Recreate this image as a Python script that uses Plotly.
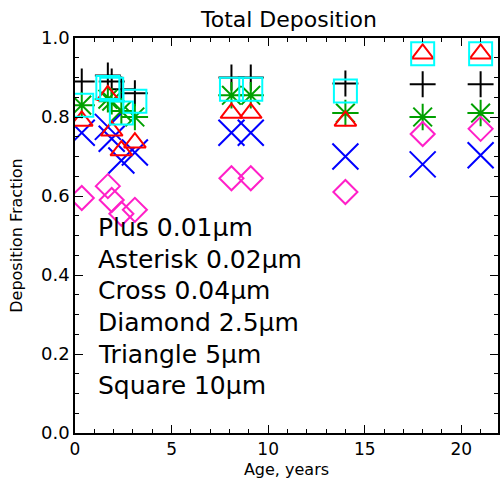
import plotly.graph_objects as go

ages = [0.35, 1.7, 1.9, 2.4, 3.1, 8.1, 9.1, 14.0, 18.0, 21.0]

plus_001 = [0.89, 0.905, 0.89, 0.87, 0.86, 0.90, 0.90, 0.885, 0.883, 0.883]
asterisk_002 = [0.83, 0.845, 0.84, 0.815, 0.80, 0.855, 0.855, 0.81, 0.80, 0.81]
cross_004 = [0.76, 0.775, 0.745, 0.69, 0.71, 0.76, 0.76, 0.70, 0.68, 0.703]
diamond_25 = [0.595, 0.625, 0.59, 0.555, 0.565, 0.645, 0.645, 0.61, 0.757, 0.77]
triangle_5 = [0.79, 0.855, 0.765, 0.715, 0.735, 0.81, 0.81, 0.79, 0.96, 0.96]
square_10 = [0.83, 0.875, 0.87, 0.81, 0.84, 0.87, 0.87, 0.866, 0.96, 0.96]

legend_labels = ["Plus 0.01\u03bcm", "Asterisk 0.02\u03bcm", "Cross 0.04\u03bcm",
                 "Diamond 2.5\u03bcm", "Triangle 5\u03bcm", "Square 10\u03bcm"]
legend_y = [0.52, 0.44, 0.36, 0.28, 0.20, 0.12]

x_ticks = [0, 5, 10, 15, 20]

series = [
    (plus_001, "cross-thin-open", "#000000", 18.5),
    (asterisk_002, "asterisk-open", "#00a000", 22),
    (cross_004, "x-thin-open", "#0000ff", 26),
    (diamond_25, "diamond-open", "#ff20c8", 18.5),
    (triangle_5, "triangle-up-open", "#ff0000", 19),
    (square_10, "square-open", "#00ffff", 23),
]

fig = go.Figure()
for vals, sym, col, sz in series:
    fig.add_trace(go.Scatter(
        x=ages, y=vals, mode="markers",
        marker=dict(symbol=sym, size=sz, color=col,
                    line=dict(color=col, width=2)),
        showlegend=False, hoverinfo="skip"))

font_family = "DejaVu Sans"
for lab, yy in zip(legend_labels, legend_y):
    fig.add_annotation(x=1.1, y=yy, xref="x", yref="y", text=lab,
                       showarrow=False, xanchor="left", yanchor="middle",
                       font=dict(family=font_family, size=25, color="black"))

fig.update_layout(
    width=501, height=490,
    margin=dict(l=75, r=1, t=38, b=57),
    paper_bgcolor="white", plot_bgcolor="white",
    title=dict(text="Total Deposition", x=(289) / 501, xanchor="center",
               y=1 - 19 / 490, yanchor="middle",
               font=dict(family=font_family, size=22, color="black")),
    font=dict(family=font_family, color="black"),
)
fig.update_xaxes(
    range=[0, 21.9], tickvals=x_ticks, ticktext=[str(v) for v in x_ticks],
    ticks="inside", ticklen=8, tickwidth=1, tickcolor="black",
    minor=dict(dtick=1, ticks="inside", ticklen=4, tickcolor="black"),
    showline=True, linecolor="black", linewidth=1.5, mirror="ticks",
    showgrid=False, zeroline=False,
    tickfont=dict(family=font_family, size=17),
    title=dict(text="Age, years", font=dict(family=font_family, size=16), standoff=6),
)
fig.update_yaxes(
    range=[0, 1.0], dtick=0.2, tickformat=".1f",
    ticks="inside", ticklen=8, tickwidth=1, tickcolor="black",
    minor=dict(dtick=0.05, ticks="inside", ticklen=4, tickcolor="black"),
    showline=True, linecolor="black", linewidth=1.5, mirror="ticks",
    showgrid=False, zeroline=False,
    tickfont=dict(family=font_family, size=18),
    title=dict(text="Deposition Fraction", font=dict(family=font_family, size=16), standoff=14),
)

fig.write_html("out.html")
